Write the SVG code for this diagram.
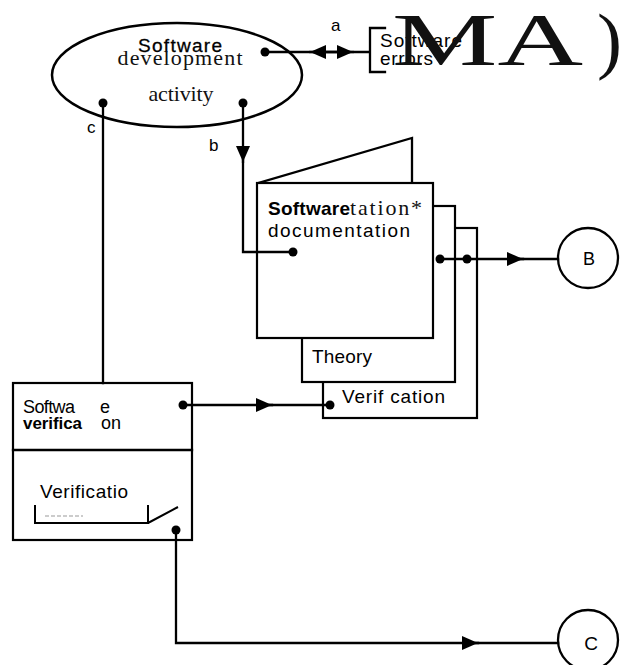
<svg xmlns="http://www.w3.org/2000/svg" width="628" height="665" viewBox="0 0 628 665">
<style>
.ln{fill:none;stroke:#000;stroke-width:2.3;stroke-linecap:square}
.bx{fill:#fff;stroke:#000;stroke-width:2.2}
.sans{font-family:"Liberation Sans",Arial,sans-serif;fill:#000}
.ser{font-family:"Liberation Serif","Times New Roman",serif;fill:#111}
.dot{fill:#000}
</style>
<defs>
<marker id="ah" viewBox="0 0 16 14" refX="16" refY="7" markerWidth="16" markerHeight="14" markerUnits="userSpaceOnUse" orient="auto">
<path d="M0,0 L16,7 L0,14 z" fill="#000"/>
</marker>
</defs>
<rect width="628" height="665" fill="#fff"/>

<g id="activity">
<ellipse cx="177" cy="75" rx="125" ry="52" fill="#fff" stroke="#000" stroke-width="2.5"/>
<text class="sans" x="180" y="52" font-size="19" text-anchor="middle" textLength="84" stroke="#000" stroke-width="0.3">Software</text>
<text class="ser" x="180" y="65" font-size="22" text-anchor="middle" textLength="125">development</text>
<text class="ser" x="181" y="101" font-size="22" text-anchor="middle" textLength="65">activity</text>
</g>

<g id="errors">
<path class="ln" d="M385,28 L370,28 L370,72 L385,72" stroke-width="2"/>
<text class="sans" x="380" y="47" font-size="19" textLength="82" fill="#222">Software</text>
<text class="sans" x="380" y="65" font-size="19" textLength="53" fill="#222">errors</text>
<text class="ser" x="392" y="65" font-size="75" textLength="191" lengthAdjust="spacingAndGlyphs" fill="#000">MA</text>
<text class="ser" x="597" y="65" font-size="75" fill="#000">)</text>
</g>

<g id="documentation">
<path class="ln" d="M258,183 L412,138 L412,183"/>
<rect class="bx" x="323" y="228" width="154" height="190"/>
<rect class="bx" x="302" y="206" width="153" height="176"/>
<rect class="bx" x="257" y="183" width="176" height="155"/>
<text class="sans" x="268" y="215" font-size="19" font-weight="bold" textLength="82">Software</text>
<text class="ser" x="350" y="215" font-size="22" textLength="72">tation*</text>
<text class="sans" x="268" y="237" font-size="19" textLength="142">documentation</text>
<text class="sans" x="312" y="363" font-size="19" textLength="60">Theory</text>
<text class="sans" x="342" y="403" font-size="19" textLength="103">Verif cation</text>
</g>

<g id="verification">
<rect class="bx" x="13" y="383" width="179" height="157"/>
<line class="ln" x1="13" y1="450" x2="192" y2="450" stroke-width="2"/>
<text class="sans" x="23" y="413" font-size="18" textLength="52">Softwa</text>
<text class="sans" x="100" y="413" font-size="18">e</text>
<text class="sans" x="23" y="429" font-size="17" font-weight="bold" textLength="59">verifica</text>
<text class="sans" x="101" y="429" font-size="18">on</text>
<text class="sans" x="40" y="498" font-size="19" textLength="88" fill="#333">Verificatio</text>
<path d="M35,505 L35,523 L148,523 L148,505 M148,523 L178,507" fill="none" stroke="#000" stroke-width="2"/>
<line x1="45" y1="516" x2="83" y2="516" stroke="#999" stroke-width="1" stroke-dasharray="4,2"/>
</g>

<g id="nodeB">
<circle cx="588" cy="258" r="30" fill="#fff" stroke="#000" stroke-width="2.3"/>
<text class="sans" x="589" y="265" font-size="18" text-anchor="middle">B</text>
</g>

<g id="nodeC">
<circle cx="588" cy="640" r="30" fill="#fff" stroke="#000" stroke-width="2.3"/>
<text class="sans" x="591" y="650" font-size="19" text-anchor="middle">C</text>
</g>

<g id="connectors">
<!-- a -->
<line class="ln" x1="265" y1="52" x2="368" y2="52"/>
<path class="ln" d="M338,52 L310,52" marker-end="url(#ah)"/>
<path class="ln" d="M326,52 L353,52" marker-end="url(#ah)"/>
<circle class="dot" cx="265" cy="52" r="4.5"/>
<text class="sans" x="331" y="31" font-size="17">a</text>
<!-- b -->
<path class="ln" d="M243,103 L243,162" marker-end="url(#ah)"/>
<path class="ln" d="M243,160 L243,252 L293,252"/>
<circle class="dot" cx="243" cy="103" r="4.5"/>
<circle class="dot" cx="293" cy="252" r="4.5"/>
<text class="sans" x="209" y="151" font-size="17">b</text>
<!-- c -->
<path class="ln" d="M103,103 L103,383"/>
<circle class="dot" cx="103" cy="103" r="4.5"/>
<text class="sans" x="87" y="133" font-size="17">c</text>
<!-- to B -->
<path class="ln" d="M440,259 L523,259" marker-end="url(#ah)"/>
<path class="ln" d="M520,259 L558,259"/>
<circle class="dot" cx="440" cy="259" r="4.5"/>
<circle class="dot" cx="467" cy="259" r="4.5"/>
<!-- verification to Verif cation -->
<path class="ln" d="M183,405 L272,405" marker-end="url(#ah)"/>
<path class="ln" d="M270,405 L330,405"/>
<circle class="dot" cx="183" cy="405" r="4.5"/>
<circle class="dot" cx="330" cy="405" r="4.5"/>
<!-- to C -->
<path class="ln" d="M176,530 L176,643 L478,643" marker-end="url(#ah)"/>
<path class="ln" d="M476,643 L558,643"/>
<circle class="dot" cx="176" cy="530" r="4.5"/>
</g>
</svg>
